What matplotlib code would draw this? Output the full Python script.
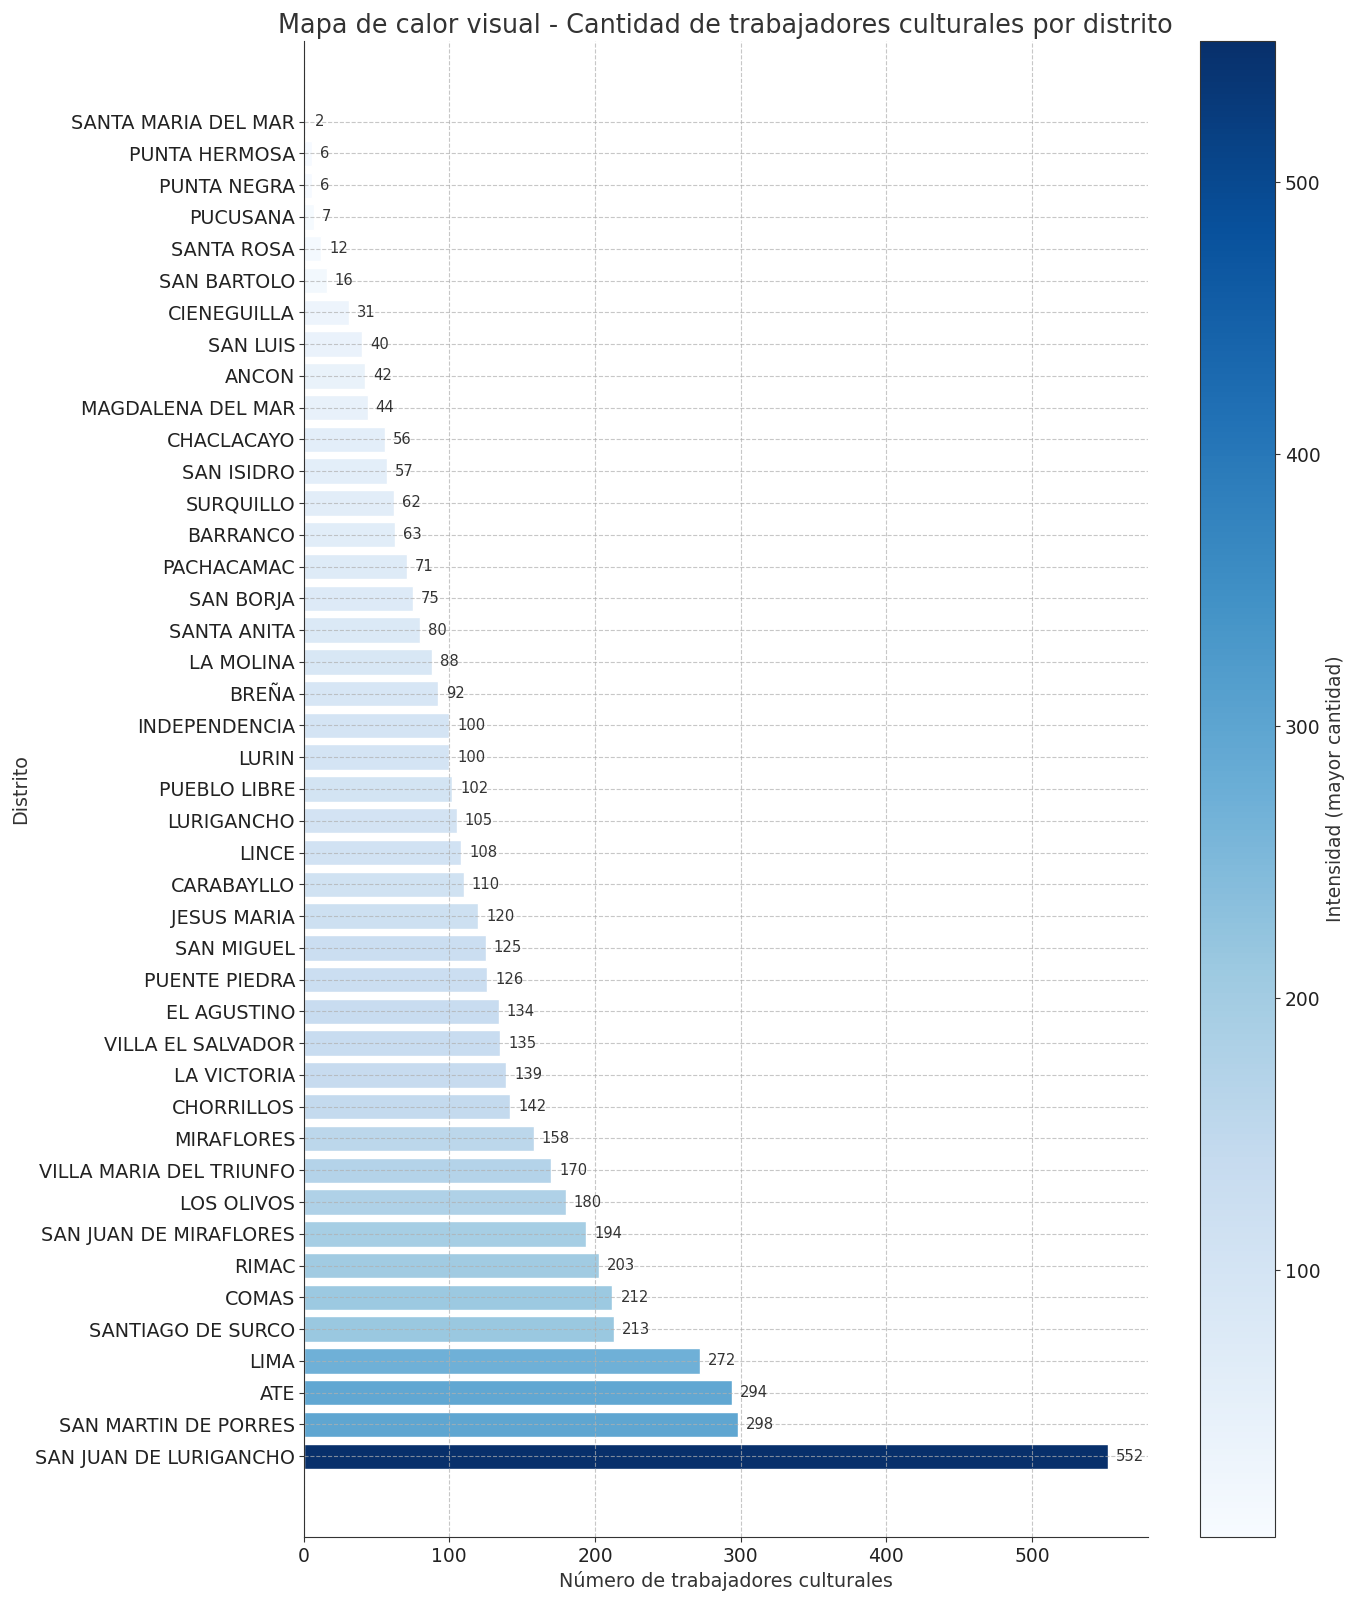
import numpy as np
import matplotlib.pyplot as plt
import matplotlib as mpl

# Datos (de abajo hacia arriba)
distritos = [
    'SAN JUAN DE LURIGANCHO', 'SAN MARTIN DE PORRES', 'ATE', 'LIMA',
    'SANTIAGO DE SURCO', 'COMAS', 'RIMAC', 'SAN JUAN DE MIRAFLORES',
    'LOS OLIVOS', 'VILLA MARIA DEL TRIUNFO', 'MIRAFLORES', 'CHORRILLOS',
    'LA VICTORIA', 'VILLA EL SALVADOR', 'EL AGUSTINO', 'PUENTE PIEDRA',
    'SAN MIGUEL', 'JESUS MARIA', 'CARABAYLLO', 'LINCE', 'LURIGANCHO',
    'PUEBLO LIBRE', 'LURIN', 'INDEPENDENCIA', 'BREÑA', 'LA MOLINA',
    'SANTA ANITA', 'SAN BORJA', 'PACHACAMAC', 'BARRANCO', 'SURQUILLO',
    'SAN ISIDRO', 'CHACLACAYO', 'MAGDALENA DEL MAR', 'ANCON', 'SAN LUIS',
    'CIENEGUILLA', 'SAN BARTOLO', 'SANTA ROSA', 'PUCUSANA', 'PUNTA NEGRA',
    'PUNTA HERMOSA', 'SANTA MARIA DEL MAR',
]
trabajadores = [
    552, 298, 294, 272, 213, 212, 203, 194, 180, 170, 158, 142, 139, 135,
    134, 126, 125, 120, 110, 108, 105, 102, 100, 100, 92, 88, 80, 75, 71,
    63, 62, 57, 56, 44, 42, 40, 31, 16, 12, 7, 6, 6, 2,
]

text_color = '#333333'
plt.rcParams['text.color'] = text_color
plt.rcParams['axes.labelcolor'] = text_color
plt.rcParams['xtick.color'] = text_color
plt.rcParams['ytick.color'] = text_color
plt.rcParams['axes.edgecolor'] = text_color

norm = mpl.colors.Normalize(vmin=min(trabajadores), vmax=max(trabajadores))
cmap = plt.cm.Blues
colores = cmap(norm(np.array(trabajadores)))

fig = plt.figure(figsize=(13.54, 16), dpi=100)
ax = fig.add_axes([0.2242, 0.0394, 0.6237, 0.935])
cax = fig.add_axes([0.8863, 0.0394, 0.0554, 0.935])

y = np.arange(len(distritos))
ax.barh(y, trabajadores, color=colores, edgecolor='white')
ax.set_yticks(y)
ax.set_yticklabels(distritos, fontsize=13.8)
ax.tick_params(axis='y', pad=2.5, labelcolor='#222222')
ax.tick_params(axis='x', labelsize=13.5, labelcolor='#222222')

for yi, v in zip(y, trabajadores):
    ax.text(v + 5.5, yi, str(v), va='center', ha='left', fontsize=10.6)

ax.set_xlabel('Número de trabajadores culturales', fontsize=13.8)
ax.set_ylabel('Distrito', fontsize=13.8)
ax.set_title('Mapa de calor visual - Cantidad de trabajadores culturales por distrito', fontsize=18.4)
ax.grid(True, linestyle='--', alpha=0.7)
ax.spines['top'].set_visible(False)
ax.spines['right'].set_visible(False)

sm = plt.cm.ScalarMappable(cmap=cmap, norm=norm)
cbar = fig.colorbar(sm, cax=cax)
cbar.set_label('Intensidad (mayor cantidad)', fontsize=13.5)
cbar.ax.tick_params(labelsize=13.5, labelcolor='#222222')

fig.savefig('out.png', dpi=100)
